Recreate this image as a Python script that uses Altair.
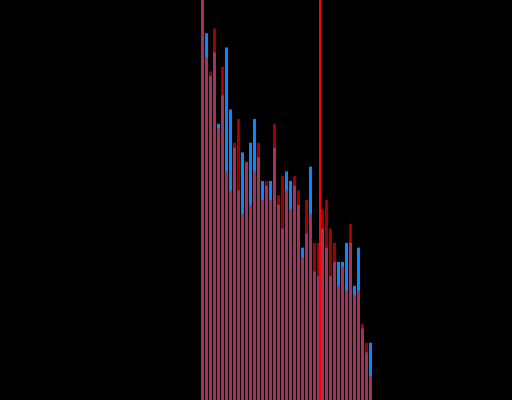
import altair as alt
import pandas as pd

# Overlaid histograms: two series of counts over the same 43 bins
bins = list(range(43))
blue_counts = [84, 77, 68, 73, 58, 64, 74, 61, 53, 44, 52, 50, 54, 59, 51, 46, 45, 46,
               53, 41, 36, 48, 46, 45, 41, 32, 35, 49, 27, 26, 36, 32, 26, 29, 29, 29,
               33, 33, 24, 32, 15, 10, 12]
red_counts = [84, 72, 69, 78, 57, 70, 48, 44, 54, 59, 39, 50, 41, 48, 54, 42, 46, 42,
              58, 43, 47, 44, 40, 47, 44, 30, 42, 39, 33, 33, 40, 42, 36, 33, 24, 28,
              23, 37, 22, 23, 16, 12, 5]
marker_position = [29.75]

df = pd.DataFrame({
    "bin": bins,
    "bin_end": [b + 0.75 for b in bins],
    "blue": blue_counts,
    "red": red_counts,
})

x_scale = alt.Scale(domain=[-50.25, 77.75], nice=False, zero=False)
y_scale = alt.Scale(domain=[0, 84], nice=False)

base = alt.Chart(df).encode(
    x=alt.X("bin:Q", scale=x_scale, axis=None),
    x2="bin_end:Q",
    y2=alt.datum(0),
)

blue_bars = base.mark_bar(color="#0a86ff", strokeWidth=0).encode(
    y=alt.Y("blue:Q", scale=y_scale, axis=None)
)
red_bars = base.mark_bar(color="#ff0000", opacity=0.63, strokeWidth=0).encode(
    y=alt.Y("red:Q", scale=y_scale, axis=None)
)

rule = alt.Chart(pd.DataFrame({"pos": marker_position})).mark_rule(
    color="#ff0000", strokeWidth=2
).encode(x=alt.X("pos:Q", scale=x_scale, axis=None))

chart = alt.layer(blue_bars, red_bars, rule).properties(
    width=512, height=400,
    autosize=alt.AutoSizeParams(type="none"),
    padding=0,
    background="black",
).configure_view(stroke=None)

chart.save("out.html", embed_options={"renderer": "svg", "actions": False})
